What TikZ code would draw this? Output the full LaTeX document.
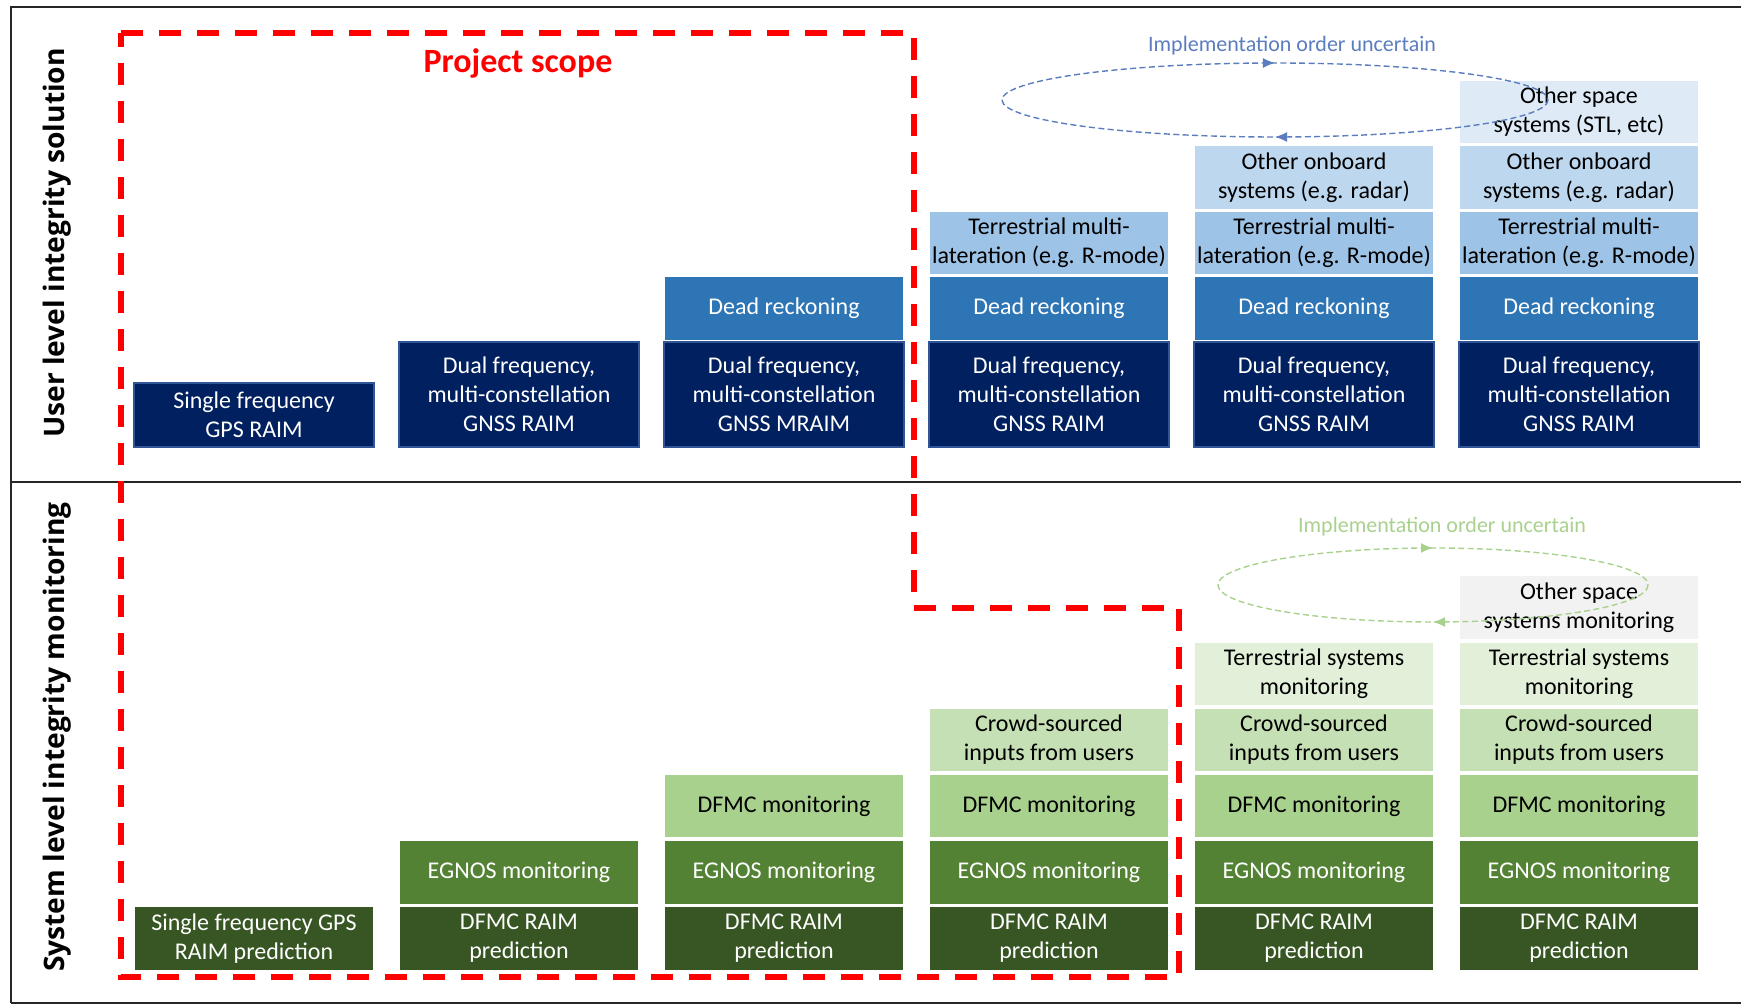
\documentclass[tikz,border=0pt]{standalone}
\usepackage{fontspec}
\setmainfont{Carlito}
\newfontfamily\sidefont{Open Sans}
\usepackage{xcolor}
\usetikzlibrary{arrows.meta,decorations.markings}

\definecolor{navyfill}{HTML}{002060}
\definecolor{navyedge}{HTML}{2F5597}
\definecolor{drfill}{HTML}{2E75B6}
\definecolor{terrfill}{HTML}{9DC3E6}
\definecolor{obfill}{HTML}{BDD7EE}
\definecolor{spfill}{HTML}{DEEBF7}
\definecolor{predfill}{HTML}{375623}
\definecolor{egfill}{HTML}{548235}
\definecolor{dmfill}{HTML}{A9D18E}
\definecolor{csfill}{HTML}{C5E0B4}
\definecolor{tsfill}{HTML}{E2F0D9}
\definecolor{osfill}{HTML}{F2F2F2}
\definecolor{loopblue}{HTML}{5B7DBF}
\definecolor{loopgreen}{HTML}{A9D18E}
\definecolor{scopered}{HTML}{FF0000}

\begin{document}
\begin{tikzpicture}[x=0.5pt,y=-0.5pt,
  cell/.style={draw=white, line width=0.6pt, minimum width=120pt, minimum height=32pt,
    inner sep=1pt, align=center, font=\fontsize{12}{14.5}\selectfont},
  gnssbox/.style={cell, fill=navyfill, draw=navyedge, text=white},
  drbox/.style={cell, fill=drfill, text=white},
  terrbox/.style={cell, fill=terrfill},
  obbox/.style={cell, fill=obfill},
  spbox/.style={cell, fill=spfill},
  predbox/.style={cell, fill=predfill, text=white},
  egbox/.style={cell, fill=egfill, text=white},
  dmbox/.style={cell, fill=dmfill},
  csbox/.style={cell, fill=csfill},
  tsbox/.style={cell, fill=tsfill},
  osbox/.style={cell, fill=osfill},
  sidelabel/.style={rotate=90, font=\sidefont\bfseries\fontsize{14.1}{16}\selectfont},
  scopetitle/.style={text=scopered, font=\bfseries\fontsize{17}{20}\selectfont},
  scopeline/.style={scopered, line width=3pt, dash pattern=on 11pt off 8pt},
  frameline/.style={black!85, line width=1.1pt},
  loopnote/.style={font=\fontsize{11}{13}\selectfont},
  looppath/.style={line width=0.7pt, dash pattern=on 3pt off 1.7pt, postaction={decorate},
    decoration={markings,
      mark=at position 0.25 with {\arrow{Latex[length=6pt,width=5pt]}},
      mark=at position 0.75 with {\arrow{Latex[length=6pt,width=5pt]}}}}
]
\useasboundingbox (0,0) rectangle (1741,1004);

% frame
\draw[frameline] (11,1003) -- (11,7) -- (1741,7);
\draw[frameline] (11,482) -- (1741,482);
\draw[frameline] (11,1003) -- (1741,1003);

\node[sidelabel] (userlab) at (57,243) {User level integrity solution};
\node[sidelabel] (syslab) at (57,737) {System level integrity monitoring};

% user level
\node[gnssbox] (u1) at (254,415) {Single frequency\\GPS RAIM};
\node[gnssbox, minimum height=52.5pt] (u2) at (519,394.5) {Dual frequency,\\multi-constellation\\GNSS RAIM};
\node[gnssbox, minimum height=52.5pt] (u3) at (784,394.5) {Dual frequency,\\multi-constellation\\GNSS MRAIM};
\node[gnssbox, minimum height=52.5pt] (u4) at (1049,394.5) {Dual frequency,\\multi-constellation\\GNSS RAIM};
\node[gnssbox, minimum height=52.5pt] (u5) at (1314,394.5) {Dual frequency,\\multi-constellation\\GNSS RAIM};
\node[gnssbox, minimum height=52.5pt] (u6) at (1579,394.5) {Dual frequency,\\multi-constellation\\GNSS RAIM};
\node[drbox] (dr3) at (784,308.5) {Dead reckoning};
\node[drbox] (dr4) at (1049,308.5) {Dead reckoning};
\node[drbox] (dr5) at (1314,308.5) {Dead reckoning};
\node[drbox] (dr6) at (1579,308.5) {Dead reckoning};
\node[terrbox] (tm4) at (1049,243) {Terrestrial multi-\\lateration (e.g. R-mode)};
\node[terrbox] (tm5) at (1314,243) {Terrestrial multi-\\lateration (e.g. R-mode)};
\node[terrbox] (tm6) at (1579,243) {Terrestrial multi-\\lateration (e.g. R-mode)};
\node[obbox] (ob5) at (1314,177.5) {Other onboard\\systems (e.g. radar)};
\node[obbox] (ob6) at (1579,177.5) {Other onboard\\systems (e.g. radar)};
\node[spbox] (sp6) at (1579,112) {Other space\\systems (STL, etc)};

% system level
\node[predbox] (p1) at (254,938.5) {Single frequency GPS\\RAIM prediction};
\node[predbox] (p2) at (519,938.5) {DFMC RAIM\\prediction};
\node[predbox] (p3) at (784,938.5) {DFMC RAIM\\prediction};
\node[predbox] (p4) at (1049,938.5) {DFMC RAIM\\prediction};
\node[predbox] (p5) at (1314,938.5) {DFMC RAIM\\prediction};
\node[predbox] (p6) at (1579,938.5) {DFMC RAIM\\prediction};
\node[egbox] (eg2) at (519,872.5) {EGNOS monitoring};
\node[egbox] (eg3) at (784,872.5) {EGNOS monitoring};
\node[egbox] (eg4) at (1049,872.5) {EGNOS monitoring};
\node[egbox] (eg5) at (1314,872.5) {EGNOS monitoring};
\node[egbox] (eg6) at (1579,872.5) {EGNOS monitoring};
\node[dmbox] (dm3) at (784,806) {DFMC monitoring};
\node[dmbox] (dm4) at (1049,806) {DFMC monitoring};
\node[dmbox] (dm5) at (1314,806) {DFMC monitoring};
\node[dmbox] (dm6) at (1579,806) {DFMC monitoring};
\node[csbox] (cs4) at (1049,740) {Crowd-sourced\\inputs from users};
\node[csbox] (cs5) at (1314,740) {Crowd-sourced\\inputs from users};
\node[csbox] (cs6) at (1579,740) {Crowd-sourced\\inputs from users};
\node[tsbox] (ts5) at (1314,674) {Terrestrial systems\\monitoring};
\node[tsbox] (ts6) at (1579,674) {Terrestrial systems\\monitoring};
\node[osbox] (os6) at (1579,607.5) {Other space\\systems monitoring};

% order loops
\node[loopnote, text=loopblue] (bnote) at (1292,46) {Implementation order uncertain};
\coordinate (bloop) at (1275,100);
\draw[looppath, loopblue] (bloop) ellipse [x radius=273, y radius=37];
\node[loopnote, text=loopgreen] (gnote) at (1442,527) {Implementation order uncertain};
\coordinate (gloop) at (1433,585);
\draw[looppath, loopgreen] (gloop) ellipse [x radius=215, y radius=37];

% project scope
\node[scopetitle] (scope) at (518,63) {Project scope};
\draw[scopeline] (121,33) -- (914,33) -- (914,608) -- (1179,608) -- (1179,977) -- (121,977) -- cycle;
\end{tikzpicture}
\end{document}
